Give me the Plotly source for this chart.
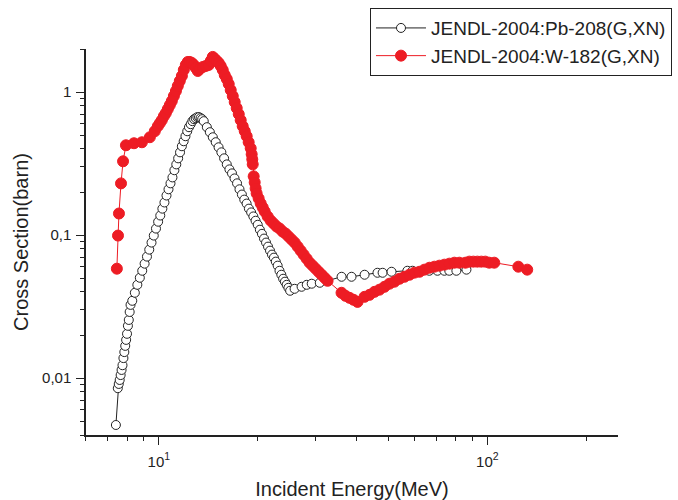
import plotly.graph_objects as go

pb_energy = [7.4, 7.50, 7.55, 7.60, 7.65, 7.70, 7.75, 7.80, 7.85, 7.90, 7.95, 8.00, 8.05, 8.10, 8.15, 8.20,
             8.30, 8.45, 8.60, 8.75, 8.90, 9.05, 9.20, 9.35, 9.50, 9.65, 9.80, 9.95, 10.10, 10.25, 10.40, 10.55,
             10.70, 10.85, 11.00, 11.15, 11.30, 11.45, 11.60, 11.75, 11.90, 12.05, 12.20, 12.35, 12.50, 12.65,
             12.80, 12.95, 13.10, 13.25, 13.40, 13.55,
             13.7, 14.0, 14.3, 14.6, 14.9, 15.2, 15.5, 15.8, 16.1, 16.4, 16.7, 17.0, 17.3, 17.6, 17.9, 18.2,
             18.5, 18.8, 19.1, 19.4, 19.7, 20.0, 20.3, 20.6, 20.9, 21.2, 21.5, 21.8, 22.1, 22.4, 22.7, 23.0,
             23.3, 23.6, 23.9, 24.2, 24.5, 24.8, 25.1,
             25.9, 27.2, 28.2, 29.2, 30.9, 36.0, 38.6, 42.3, 46.3, 48.0, 51.1, 57.1, 59.2, 66.6, 70.5, 74.0,
             76.6, 80.5, 86.4]
pb_xs = [0.0047, 0.0085, 0.0091, 0.0097, 0.0105, 0.0114, 0.0123, 0.0138, 0.0152, 0.0168, 0.0185, 0.0204,
         0.0232, 0.0255, 0.0290, 0.0325,
         0.0347, 0.0395, 0.0449, 0.0503, 0.0563, 0.0631, 0.0707, 0.0791, 0.0886, 0.0992, 0.111, 0.124, 0.137,
         0.153, 0.169, 0.189, 0.209, 0.230, 0.253, 0.284, 0.312, 0.344, 0.379, 0.418, 0.453, 0.491, 0.532,
         0.568, 0.596, 0.626, 0.646, 0.657, 0.668, 0.668, 0.657, 0.646,
         0.626, 0.568, 0.524, 0.483, 0.446, 0.411, 0.379, 0.344, 0.312, 0.288, 0.270, 0.249, 0.230, 0.209,
         0.192, 0.177, 0.166, 0.153, 0.144, 0.135, 0.126, 0.118, 0.109, 0.102, 0.0945, 0.0886, 0.0830,
         0.0778, 0.0730, 0.0695, 0.0652, 0.0611, 0.0563, 0.0528, 0.0495, 0.0472, 0.0449, 0.0428, 0.0408,
         0.0421, 0.0435, 0.0449, 0.0457, 0.0464, 0.0511, 0.0511, 0.0528, 0.0545, 0.0545, 0.0554, 0.0563,
         0.0563, 0.0563, 0.0563, 0.0563, 0.0563, 0.0563, 0.0573]

w_energy = [7.45, 7.51, 7.56, 7.67, 7.78, 7.94, 8.40, 8.88, 9.39, 9.72,
            9.93, 10.07, 10.21, 10.36, 10.50, 10.65, 10.80, 10.95, 11.11, 11.27,
            11.42, 11.58, 11.75, 11.91, 12.08, 12.25, 12.42, 12.60, 12.78, 12.96,
            13.14, 13.32, 13.61, 13.90, 14.19, 14.39, 14.59, 14.80, 15.01, 15.22,
            15.43, 15.65, 15.87, 16.10, 16.32, 16.55, 16.79, 17.02, 17.26, 17.51,
            17.75, 18.00, 18.26, 18.51, 18.77, 19.04, 19.17, 19.25, 19.31, 19.44,
            19.58, 19.71, 19.85, 20.13, 20.42, 20.71, 21.00, 21.44, 21.90, 22.36,
            22.84, 23.32, 23.82, 24.32, 24.84, 25.37, 25.91, 26.46, 27.02, 27.59,
            28.18, 28.78, 29.39, 30.01, 30.65, 31.30, 31.96, 32.64, 35.99, 37.01,
            38.07, 39.15, 40.26, 42.28, 43.78, 45.34, 46.95, 48.63, 50.36, 52.15,
            54.01, 55.93, 57.93, 59.99, 62.13, 64.34, 66.64, 69.01, 71.47, 74.02,
            76.66, 79.39, 82.22, 85.75, 88.18, 90.68, 93.25, 95.88, 98.61, 101.4,
            105.0, 124.3, 132.3]
w_xs = [0.0582, 0.0992, 0.1415, 0.2298, 0.3280, 0.4246, 0.4386, 0.4457, 0.4832, 0.5323,
        0.5772, 0.6059, 0.6360, 0.6787, 0.7123, 0.7600, 0.8104, 0.8642, 0.9374, 1.0163,
        1.1018, 1.1945, 1.2950, 1.4269, 1.5469, 1.6237, 1.6237, 1.5977, 1.5469, 1.4736,
        1.4039, 1.4499, 1.4976, 1.5220, 1.5469, 1.6505, 1.7609, 1.7049, 1.6505, 1.5977,
        1.5220, 1.4269, 1.3161, 1.2339, 1.1379, 1.0329, 0.9374, 0.8504, 0.7722, 0.7009,
        0.6360, 0.5772, 0.5323, 0.4910, 0.4457, 0.4045, 0.3671, 0.3387, 0.3123, 0.2573,
        0.2335, 0.2120, 0.1955, 0.1804, 0.1664, 0.1560, 0.1462, 0.1349, 0.1264, 0.1204,
        0.1147, 0.1111, 0.1058, 0.1024, 0.0976, 0.0930, 0.0886, 0.0831, 0.0779, 0.0730,
        0.0684, 0.0641, 0.0611, 0.0582, 0.0554, 0.0528, 0.0503, 0.0479, 0.0395, 0.0376,
        0.0364, 0.0353, 0.0341, 0.0370, 0.0382, 0.0401, 0.0415, 0.0435, 0.0457, 0.0472,
        0.0495, 0.0511, 0.0528, 0.0546, 0.0554, 0.0573, 0.0591, 0.0601, 0.0611, 0.0621,
        0.0631, 0.0641, 0.0641, 0.0641, 0.0652, 0.0652, 0.0652, 0.0652, 0.0652, 0.0641,
        0.0641, 0.0601, 0.0573]

x_major = [10, 100]
x_major_text = ["10<sup>1</sup>", "10<sup>2</sup>"]
x_minor = [6, 7, 8, 9, 20, 30, 40, 50, 60, 70, 80, 90, 200]
y_major = [0.01, 0.1, 1]
y_major_text = ["0,01", "0,1", "1"]
y_minor = [0.004, 0.005, 0.006, 0.007, 0.008, 0.009, 0.02, 0.03, 0.04, 0.05, 0.06, 0.07, 0.08, 0.09,
           0.2, 0.3, 0.4, 0.5, 0.6, 0.7, 0.8, 0.9, 2]

RED = "#ED1C24"
INK = "#222222"
FONT = "Liberation Sans, Arial, sans-serif"

fig = go.Figure()
fig.add_trace(go.Scatter(
    x=pb_energy, y=pb_xs, mode="lines+markers", name="JENDL-2004:Pb-208(G,XN)",
    line=dict(color=INK, width=1),
    marker=dict(symbol="circle", size=9, color="white", line=dict(color=INK, width=1)),
))
fig.add_trace(go.Scatter(
    x=w_energy, y=w_xs, mode="lines+markers", name="JENDL-2004:W-182(G,XN)",
    line=dict(color=RED, width=1),
    marker=dict(symbol="circle", size=11, color=RED, line=dict(color=RED, width=1)),
))

axis_common = dict(type="log", showgrid=False, zeroline=False, showline=True, linecolor=INK,
                   linewidth=1.5, ticks="outside", ticklen=8, tickwidth=1.2, tickcolor=INK,
                   automargin=False,
                   tickfont=dict(family=FONT, size=15, color=INK))

fig.update_xaxes(**axis_common, range=[0.7782, 2.3979], tickvals=x_major, ticktext=x_major_text,
                 ticklabelstandoff=4,
                 minor=dict(tickvals=x_minor, ticks="outside", ticklen=4, tickwidth=1, tickcolor=INK),
                 title=dict(text="Incident Energy(MeV)", font=dict(family=FONT, size=20, color=INK),
                            standoff=17))
fig.update_yaxes(**axis_common, range=[-2.3979, 0.30103], tickvals=y_major, ticktext=y_major_text,
                 ticklabelstandoff=2,
                 minor=dict(tickvals=y_minor, ticks="outside", ticklen=4, tickwidth=1, tickcolor=INK),
                 title=dict(text="Cross Section(barn)", font=dict(family=FONT, size=20, color=INK),
                            standoff=8))

fig.update_layout(
    width=678, height=500,
    margin=dict(l=86, r=60, t=49, b=65, autoexpand=False),
    paper_bgcolor="white", plot_bgcolor="white",
    showlegend=True,
    legend=dict(x=1.1015, y=1.106, xanchor="right", yanchor="top",
                bgcolor="white", bordercolor=INK, borderwidth=1,
                font=dict(family=FONT, size=19, color=INK),
                itemwidth=50, tracegroupgap=0),
)

fig.write_html("out.html")
